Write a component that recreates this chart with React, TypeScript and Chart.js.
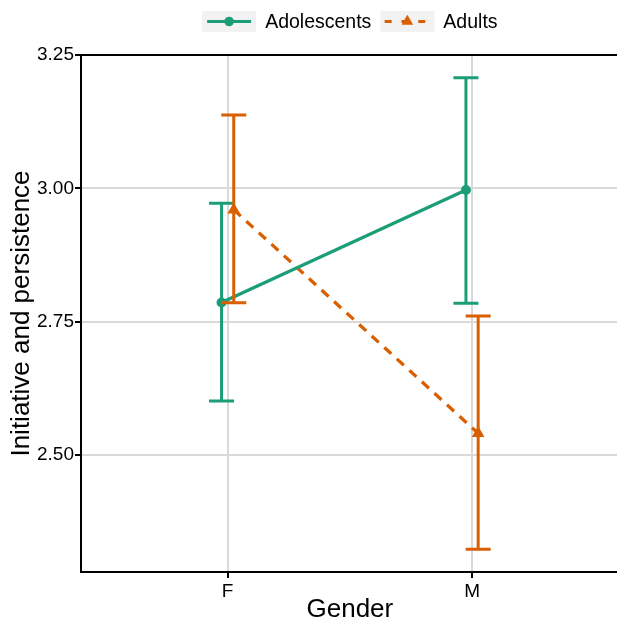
import React, { useEffect, useRef } from "react";
import { Chart, registerables } from "chart.js";

Chart.register(...registerables);

const categories = ["F", "M"];
const groupNames = ["Adolescents", "Adults"];
const adolescentMean = [2.786, 2.997];
const adolescentLower = [2.6015, 2.7846];
const adolescentUpper = [2.972, 3.2075];
const adultMean = [2.96, 2.541];
const adultLower = [2.7857, 2.3235];
const adultUpper = [3.1375, 2.761];
const yTicks = [2.5, 2.75, 3.0, 3.25];
const yMin = 2.281;
const yMax = 3.25;
const dodge = 0.025;

const GREEN = "#1B9E77";
const ORANGE = "#D95F02";
const FONT = "'Liberation Sans', Arial, Helvetica, sans-serif";
const DASH = [9.5, 7.5];

const errorBarPlugin = {
  id: "errorBars",
  afterDatasetsDraw(chart: any) {
    const ctx = chart.ctx;
    const yScale = chart.scales.y;
    chart.data.datasets.forEach((ds: any, di: number) => {
      const meta = chart.getDatasetMeta(di);
      ctx.save();
      ctx.strokeStyle = ds.borderColor;
      ctx.lineWidth = 3;
      ctx.setLineDash([]);
      meta.data.forEach((el: any, i: number) => {
        const x = el.x;
        const yl = yScale.getPixelForValue(ds.errLow[i]);
        const yh = yScale.getPixelForValue(ds.errHigh[i]);
        const cap = 12.5;
        ctx.beginPath();
        ctx.moveTo(x, yl);
        ctx.lineTo(x, yh);
        ctx.moveTo(x - cap, yl);
        ctx.lineTo(x + cap, yl);
        ctx.moveTo(x - cap, yh);
        ctx.lineTo(x + cap, yh);
        ctx.stroke();
      });
      ctx.restore();
    });
  },
};

const framePlugin = {
  id: "frameTop",
  afterDraw(chart: any) {
    const { ctx, chartArea } = chart;
    ctx.save();
    ctx.strokeStyle = "#000";
    ctx.lineWidth = 2;
    ctx.beginPath();
    ctx.moveTo(chartArea.left - 1, chartArea.top);
    ctx.lineTo(chartArea.right + 2, chartArea.top);
    ctx.stroke();
    ctx.restore();
  },
};

const legendPlugin = {
  id: "topLegend",
  afterDraw(chart: any) {
    const { ctx, chartArea } = chart;
    ctx.save();
    ctx.font = `19.5px ${FONT}`;
    const boxW = 54;
    const boxH = 21;
    const gap = 9;
    const widths = groupNames.map((n) => ctx.measureText(n).width);
    const total = widths.reduce((a, w) => a + boxW + gap + w, 0) + gap * (groupNames.length - 1);
    let x = (chartArea.left + chartArea.right) / 2 - total / 2;
    const yTop = 11;
    const yMid = yTop + boxH / 2;
    groupNames.forEach((name, i) => {
      ctx.fillStyle = "#f2f2f2";
      ctx.fillRect(x, yTop, boxW, boxH);
      const color = i === 0 ? GREEN : ORANGE;
      ctx.strokeStyle = color;
      ctx.fillStyle = color;
      ctx.lineWidth = 3.2;
      ctx.beginPath();
      if (i === 0) {
        ctx.setLineDash([]);
        ctx.moveTo(x + 5, yMid);
        ctx.lineTo(x + boxW - 5, yMid);
        ctx.stroke();
        ctx.beginPath();
        ctx.arc(x + boxW / 2, yMid, 4.8, 0, Math.PI * 2);
        ctx.fill();
      } else {
        ctx.setLineDash([7, 9.8]);
        ctx.moveTo(x + 4.3, yMid);
        ctx.lineTo(x + boxW - 4.3, yMid);
        ctx.stroke();
        ctx.setLineDash([]);
        const cx = x + boxW / 2;
        const r = 6.7;
        ctx.beginPath();
        ctx.moveTo(cx, yMid - r);
        ctx.lineTo(cx + r * 0.866, yMid + r / 2);
        ctx.lineTo(cx - r * 0.866, yMid + r / 2);
        ctx.closePath();
        ctx.fill();
      }
      x += boxW + gap;
      ctx.fillStyle = "#000";
      ctx.textBaseline = "middle";
      ctx.textAlign = "left";
      ctx.fillText(name, x, yMid + 1);
      x += widths[i] + gap;
    });
    ctx.restore();
  },
};

export default function App() {
  const ref = useRef<HTMLCanvasElement | null>(null);

  useEffect(() => {
    if (!ref.current) return;
    const chart = new Chart(ref.current, {
      type: "line",
      data: {
        datasets: [
          {
            label: groupNames[0],
            data: categories.map((_, i) => ({ x: i + 1 - dodge, y: adolescentMean[i] })),
            borderColor: GREEN,
            backgroundColor: GREEN,
            borderWidth: 3.3,
            pointStyle: "circle",
            pointRadius: 5,
            pointBorderWidth: 0,
            pointBackgroundColor: GREEN,
            errLow: adolescentLower,
            errHigh: adolescentUpper,
          } as any,
          {
            label: groupNames[1],
            data: categories.map((_, i) => ({ x: i + 1 + dodge, y: adultMean[i] })),
            borderColor: ORANGE,
            backgroundColor: ORANGE,
            borderWidth: 3.3,
            borderDash: DASH,
            pointStyle: "triangle",
            pointRadius: 7.3,
            pointBorderWidth: 0,
            pointBackgroundColor: ORANGE,
            errLow: adultLower,
            errHigh: adultUpper,
          } as any,
        ],
      },
      options: {
        animation: false,
        responsive: false,
        maintainAspectRatio: false,
        devicePixelRatio: 1,
        layout: { padding: { top: 55, left: 0, right: 2, bottom: 0 } },
        plugins: {
          legend: { display: false },
          tooltip: { enabled: false },
        },
        scales: {
          x: {
            type: "linear",
            min: 0.4,
            max: 2.6,
            afterFit: (s: any) => {
              s.height = 48;
            },
            afterBuildTicks: (s: any) => {
              s.ticks = categories.map((_, i) => ({ value: i + 1 }));
            },
            ticks: {
              callback: (v: any) => categories[Math.round(v) - 1] ?? "",
              autoSkip: false,
              maxRotation: 0,
              color: "#000",
              padding: 2,
              font: { family: FONT, size: 19 },
            },
            grid: {
              color: "#d9d9d9",
              lineWidth: 2,
              tickLength: 6,
              tickColor: "#000",
              tickWidth: 2,
            },
            border: { display: true, color: "#000", width: 2 },
            title: {
              display: true,
              text: "Gender",
              color: "#000",
              font: { family: FONT, size: 26, lineHeight: 0.8 },
              padding: { top: 0, bottom: 0 },
            },
          },
          y: {
            type: "linear",
            min: yMin,
            max: yMax,
            afterFit: (s: any) => {
              s.width = 81;
            },
            afterBuildTicks: (s: any) => {
              s.ticks = yTicks.map((v) => ({ value: v }));
            },
            ticks: {
              callback: (v: any) => Number(v).toFixed(2),
              color: "#000",
              padding: 1,
              font: { family: FONT, size: 19 },
            },
            grid: {
              color: "#d9d9d9",
              lineWidth: 2,
              tickLength: 6,
              tickColor: "#000",
              tickWidth: 2,
            },
            border: { display: true, color: "#000", width: 2 },
            title: {
              display: true,
              text: "Initiative and persistence",
              color: "#000",
              font: { family: FONT, size: 26, lineHeight: 1.2 },
              padding: { top: 6, bottom: 0 },
            },
          },
        },
      },
      plugins: [errorBarPlugin, framePlugin, legendPlugin],
    });
    return () => chart.destroy();
  }, []);

  return (
    <div
      style={{
        position: "fixed",
        left: 0,
        top: 0,
        width: 617,
        height: 620,
        overflow: "hidden",
        background: "#fff",
      }}
    >
      <canvas ref={ref} width={626} height={620} style={{ display: "block", width: 626, height: 620 }} />
    </div>
  );
}
